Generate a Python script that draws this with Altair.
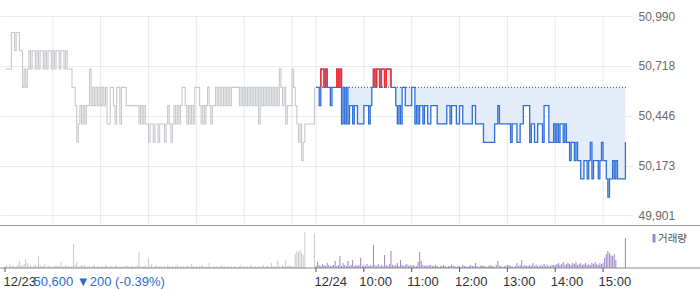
import altair as alt
import pandas as pd

# ---------------- data ----------------
BASE_PRICE = 50600          # previous close (dotted reference line)
SLOT = 2                    # minutes per sample
DAY_LEN = 390               # 09:00-15:30 trading minutes

# 12/23 session, one value per 2 minutes
day1_prices = [
    50700, 50700, 50700, 50700, 50900, 50900, 50800, 50900, 50900, 50800, 50800, 50600, 50700, 50600, 50700,
    50800, 50700, 50800, 50800, 50700, 50800, 50700, 50800, 50800, 50700, 50800, 50700, 50800, 50800, 50700,
    50800, 50700, 50800, 50800, 50700, 50800, 50800, 50700, 50800,
    50700, 50700, 50700, 50600, 50600, 50500, 50300, 50400, 50500, 50400, 50500, 50400, 50500, 50500, 50700,
    50500, 50600, 50500, 50600, 50500, 50600, 50500, 50600, 50500, 50600, 50400, 50400, 50600, 50600,
    50500, 50400, 50600, 50600, 50400, 50600, 50600, 50600, 50500, 50500, 50500, 50500, 50500, 50500, 50500,
    50500, 50400, 50500, 50400, 50500, 50400,
    50400, 50300, 50400, 50400, 50300, 50400, 50400, 50300, 50400, 50400, 50400, 50300, 50400, 50500,
    50400, 50300, 50400,
    50500, 50400, 50500, 50400, 50500, 50600, 50600, 50500, 50400, 50500, 50400, 50500, 50400, 50600,
    50600, 50600, 50500, 50400, 50500, 50400, 50500, 50600, 50500, 50400, 50500,
    50500, 50600, 50500, 50600, 50500, 50600, 50500, 50600, 50500, 50600, 50500, 50600, 50600, 50600,
    50600, 50600, 50500, 50600, 50500, 50600, 50500, 50600, 50500, 50600, 50500, 50600, 50500, 50600,
    50400, 50600, 50500, 50600, 50500, 50600, 50500, 50600, 50500, 50600, 50500, 50600, 50500, 50700,
    50600, 50500, 50600, 50400, 50500, 50500, 50500, 50700, 50600, 50500, 50400, 50300, 50400, 50200,
    50300, 50400, 50400, 50400, 50400, 50400, 50400, 50600,
]

# 12/24 session, one value per 2 minutes
day2_prices = [
    50600, 50600, 50500, 50700, 50700, 50600, 50700, 50600, 50600, 50500, 50600, 50600, 50600, 50700, 50600, 50700,
    50400, 50600, 50400, 50600, 50400, 50500, 50500, 50400, 50500, 50500, 50400, 50400, 50400, 50400,
    50500, 50500, 50500, 50400, 50500, 50600,
    50700, 50600, 50700, 50700, 50600, 50700, 50700, 50600, 50700, 50700, 50700, 50600, 50600, 50600,
    50500, 50400, 50500, 50400, 50600, 50600, 50500, 50500, 50500, 50500, 50600, 50600, 50400, 50500,
    50400, 50500, 50500, 50400, 50500, 50500, 50400, 50400, 50500, 50500, 50500, 50500,
    50400, 50400, 50400, 50400, 50400, 50400, 50500, 50500, 50400, 50500, 50500, 50500, 50400, 50400,
    50500, 50500, 50400, 50400, 50400, 50400, 50400, 50400, 50500, 50500,
    50400, 50400, 50400, 50400, 50400, 50300, 50300, 50300, 50300, 50300, 50300, 50300, 50400, 50400,
    50500, 50400, 50400, 50400, 50400, 50400, 50400, 50400, 50300, 50400, 50400, 50400, 50300, 50300,
    50400, 50400, 50500, 50500, 50500, 50500,
    50300, 50400, 50400, 50300, 50300, 50400, 50400, 50400, 50300, 50500, 50500, 50500, 50300, 50300,
    50300, 50400, 50300, 50400, 50300, 50400, 50400, 50300, 50400, 50300, 50300, 50200, 50300, 50300,
    50200, 50300, 50200, 50200,
    50100, 50100, 50200, 50200, 50100, 50200, 50300, 50100, 50200, 50200, 50200, 50100, 50200, 50300,
    50200, 50200, 50100, 50000, 50100, 50100, 50200, 50100, 50200, 50100, 50100, 50100, 50100, 50100,
    50300,
]

day1_volume = [
    2, 3, 1, 4, 2, 3, 1, 2, 3, 7,
    3, 2, 4, 9, 5, 2, 3, 1, 2, 3,
    2, 12, 3, 2, 2, 4, 1, 3, 2, 2,
    1, 2, 3, 2, 2, 6, 2, 1, 3, 2,
    2, 1, 2, 24, 3, 6, 1, 2, 3, 2,
    3, 1, 2, 2, 1, 2, 3, 1, 2, 2,
    1, 2, 1, 3, 2, 1, 2, 2, 1, 2,
    3, 1, 2, 1, 2, 1, 3, 2, 1, 2,
    2, 1, 2, 3, 16, 2, 1, 2, 3, 1,
    10, 2, 4, 1, 2, 3, 1, 2, 2, 1,
    2, 1, 3, 2, 1, 2, 1, 2, 3, 1,
    2, 1, 2, 1, 3, 2, 1, 4, 2, 1,
    2, 1, 2, 2, 3, 1, 2, 1, 5, 1,
    1, 2, 1, 2, 1, 2, 3, 1, 2, 1,
    2, 1, 2, 1, 2, 1, 1, 2, 3, 1,
    2, 1, 2, 1, 3, 2, 1, 2, 1, 2,
    1, 2, 3, 1, 2, 2, 1, 5, 2, 1,
    2, 7, 2, 1, 3, 2, 8, 2, 3, 2,
    2, 2, 14, 17, 16, 18, 15, 13, 36, 0,
    0, 0, 0, 0, 35,
]

day2_volume = [
    2, 6, 3, 2, 4, 3, 2, 5, 3, 2,
    2, 3, 7, 2, 3, 12, 2, 5, 3, 2,
    7, 2, 3, 8, 2, 3, 2, 3, 10, 2,
    3, 2, 4, 2, 3, 2, 23, 3, 2, 4,
    2, 3, 2, 13, 3, 2, 4, 17, 3, 2,
    3, 5, 2, 8, 3, 2, 3, 4, 2, 3,
    2, 3, 2, 2, 6, 16, 7, 3, 2, 3,
    2, 3, 3, 2, 2, 3, 2, 1, 2, 2,
    3, 2, 1, 2, 2, 3, 2, 2, 1, 2,
    2, 1, 3, 2, 2, 1, 2, 3, 2, 2,
    5, 2, 1, 2, 3, 2, 2, 1, 2, 3,
    2, 2, 1, 3, 7, 2, 2, 1, 2, 2,
    3, 3, 2, 2, 1, 2, 5, 2, 3, 8,
    2, 3, 2, 2, 3, 2, 5, 2, 3, 2,
    2, 3, 2, 4, 2, 3, 2, 2, 3, 3,
    3, 4, 5, 3, 4, 6, 3, 4, 5, 4,
    3, 5, 4, 6, 3, 4, 5, 3, 4, 5,
    3, 4, 3, 5, 4, 6, 4, 3, 5, 4,
    5, 10, 14, 17, 15, 13, 12, 14, 8, 0,
    0, 0, 0, 0, 30,
]

y_ticks = [49901, 50173, 50446, 50718, 50990]
grid_minutes = [60, 120, 180, 240, 300, 360, 390, 450, 510, 570, 630, 690, 750]
date_minutes = [0, 390]
date_labels = ["12/23", "12/24"]
time_minutes = [450, 510, 570, 630, 690, 750]
time_labels = ["10:00", "11:00", "12:00", "13:00", "14:00", "15:00"]
info_text = "50,600 ▼200 (-0.39%)"
legend_text = "거래량"

# ---------------- tables ----------------
d1 = pd.DataFrame({"t": [SLOT * i for i in range(len(day1_prices))],
                   "price": day1_prices})
d2 = pd.DataFrame({"t": [DAY_LEN + SLOT * j for j in range(len(day2_prices))],
                   "price": day2_prices})
d2["base"] = BASE_PRICE
d2["lo"] = d2["price"].clip(upper=BASE_PRICE)
d2["hi"] = d2["price"].clip(lower=BASE_PRICE)

# red segments: runs where the price is above the previous close
rows = []
p = day2_prices
tt = list(d2["t"])
seg, j, n = 0, 0, len(p)
while j < n:
    if p[j] > BASE_PRICE:
        k = j
        while j < n and p[j] > BASE_PRICE:
            j += 1
        m = j - 1
        rows.append({"seg": seg, "t": tt[k], "price": BASE_PRICE})
        for q in range(k, m + 1):
            rows.append({"seg": seg, "t": tt[q], "price": p[q]})
        if m + 1 < n:
            rows.append({"seg": seg, "t": tt[m + 1], "price": BASE_PRICE})
        seg += 1
    else:
        j += 1
red_df = pd.DataFrame(rows)
red_df["idx"] = range(len(red_df))

vol_df = pd.concat([
    pd.DataFrame({"t": [SLOT * i for i in range(len(day1_volume))],
                  "vol": day1_volume, "session": "12/23"}),
    pd.DataFrame({"t": [DAY_LEN + SLOT * j for j in range(len(day2_volume))],
                  "vol": day2_volume, "session": "12/24"}),
], ignore_index=True)

base_df = pd.DataFrame({"t": [DAY_LEN, 2 * DAY_LEN], "price": [BASE_PRICE, BASE_PRICE]})
grid_df = pd.DataFrame({"t": grid_minutes})
date_df = pd.DataFrame({"t": date_minutes, "label": date_labels})
time_df = pd.DataFrame({"t": time_minutes, "label": time_labels})
tick_df = pd.DataFrame({"t": date_minutes + time_minutes})
one = pd.DataFrame({"a": [0]})

# ---------------- scales ----------------
W, H = 632, 252
X = alt.Scale(domain=[0, 2 * DAY_LEN], nice=False, zero=False)
PY = alt.Scale(domain=[49613, 50990], nice=False, zero=False)
VY = alt.Scale(domain=[0, 252], nice=False)
FONT = "Liberation Sans"

y_axis = alt.Axis(orient="right", values=y_ticks, format=",d", grid=True,
                  gridColor="#ebebeb", gridWidth=1, domain=False, ticks=False,
                  labelPadding=6, labelColor="#6b6b6b", labelFontSize=12,
                  labelFont=FONT, title=None)

def xt():
    return alt.X("t:Q", scale=X, axis=None)

vgrid = alt.Chart(grid_df).mark_rule(color="#ebebeb", strokeWidth=1).encode(
    x=xt(), y=alt.value(0), y2=alt.value(209.5))

blue_fill = alt.Chart(d2).mark_area(interpolate="step-after", color="#e4ecf9").encode(
    x=xt(), y=alt.Y("lo:Q", scale=PY, axis=y_axis), y2="base:Q")
red_fill = alt.Chart(d2).mark_area(interpolate="step-after", color="#fde8e8").encode(
    x=xt(), y=alt.Y("hi:Q", scale=PY, axis=y_axis), y2="base:Q")

base_line = alt.Chart(base_df).mark_line(color="#555555", strokeWidth=1,
                                         strokeDash=[1, 2]).encode(
    x=xt(), y=alt.Y("price:Q", scale=PY, axis=y_axis))

gray_line = alt.Chart(d1).mark_line(interpolate="step-after", color="#c6c8cd",
                                    strokeWidth=1.1).encode(
    x=xt(), y=alt.Y("price:Q", scale=PY, axis=y_axis))

blue_line = alt.Chart(d2).mark_line(interpolate="step-after", color="#2f6fd8",
                                    strokeWidth=1.3).encode(
    x=xt(), y=alt.Y("price:Q", scale=PY, axis=y_axis))

red_line = alt.Chart(red_df).mark_line(interpolate="step-after", color="#ff2b2b",
                                       strokeWidth=1.3).encode(
    x=xt(), y=alt.Y("price:Q", scale=PY, axis=y_axis),
    detail="seg:N", order="idx:Q")

price_layer = alt.layer(blue_fill, red_fill, base_line, gray_line, blue_line, red_line)

vol_bars = alt.Chart(vol_df).mark_bar(size=1).encode(
    x=xt(), y=alt.Y("vol:Q", scale=VY, axis=None),
    color=alt.Color("session:N",
                    scale=alt.Scale(domain=["12/23", "12/24"], range=["#c8c9cd", "#9b86c6"]),
                    legend=None))
vol_layer = alt.layer(vol_bars)

separator = alt.Chart(one).mark_rule(color="#9a9a9a", strokeWidth=1).encode(
    x=alt.value(0), x2=alt.value(700), y=alt.value(209.5))
axis_line = alt.Chart(one).mark_rule(color="#8a8a8a", strokeWidth=1).encode(
    x=alt.value(0), x2=alt.value(700), y=alt.value(252))
ticks = alt.Chart(tick_df).mark_rule(color="#555555", strokeWidth=1).encode(
    x=xt(), y=alt.value(252), y2=alt.value(256))

date_text = alt.Chart(date_df).mark_text(align="left", baseline="alphabetic", dx=-1.5,
                                         font=FONT, fontSize=13, color="#333333").encode(
    x=xt(), y=alt.value(269.5), text="label:N")
time_text = alt.Chart(time_df).mark_text(align="left", baseline="alphabetic", dx=-4.5,
                                         font=FONT, fontSize=13, color="#333333").encode(
    x=xt(), y=alt.value(269.5), text="label:N")
info = alt.Chart(one).mark_text(align="left", baseline="alphabetic", font=FONT,
                                fontSize=13, color="#2a6ad4").encode(
    x=alt.value(33.5), y=alt.value(269.5), text=alt.value(info_text))

legend_mark = alt.Chart(one).mark_rect(color="#9b86c6").encode(
    x=alt.value(652.5), x2=alt.value(655.5), y=alt.value(218), y2=alt.value(226.5))
legend_label = alt.Chart(one).mark_text(align="left", baseline="middle",
                                        font="Noto Sans CJK KR", fontSize=10.5,
                                        color="#555555").encode(
    x=alt.value(658), y=alt.value(222.5), text=alt.value(legend_text))

chart = alt.layer(
    vgrid, price_layer, vol_layer, separator, axis_line, ticks,
    date_text, time_text, info, legend_mark, legend_label,
).resolve_scale(y="independent").properties(
    width=W, height=H,
    autosize=alt.AutoSizeParams(type="none"),
    padding={"left": 0, "top": 16, "right": 68, "bottom": 21},
    background="white",
).configure_view(stroke=None)

chart.save("out.html", embed_options={"renderer": "svg", "actions": False})
